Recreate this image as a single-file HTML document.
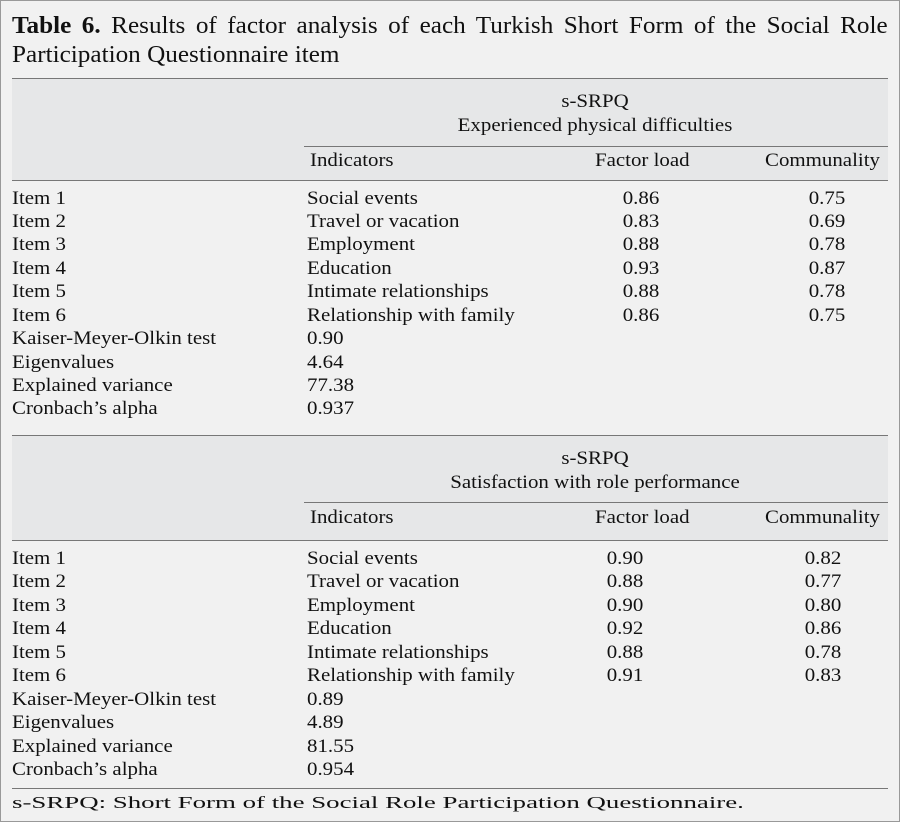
<!DOCTYPE html>
<html><head><meta charset="utf-8"><style>
body{margin:0;width:900px;height:822px;background:#f1f1f1;overflow:hidden;font-family:"Liberation Serif",serif;color:#111;}
.frame{position:absolute;left:0;top:0;width:898px;height:820px;border:1px solid #999;}
.t{position:absolute;font-size:19px;line-height:22px;white-space:nowrap;transform:scaleX(1.1);transform-origin:0 0;}
.c{transform:translateX(-50%) scaleX(1.1);transform-origin:50% 0;}
.band{position:absolute;left:12px;width:876px;background:#e6e7e8;}
.hl{position:absolute;height:1px;background:#777;}
.ti{position:absolute;left:12px;font-size:24px;line-height:28px;white-space:nowrap;transform:scaleX(1.05);transform-origin:0 0;}
</style></head><body>
<div class="frame"></div>
<div class="ti" style="top:12px;width:834px;text-align:justify;text-align-last:justify;"><b>Table 6.</b> Results of factor analysis of each Turkish Short Form of the Social Role</div>
<div class="ti" style="top:41px;">Participation Questionnaire item</div>

<div class="band" style="top:78px;height:102px"></div>
<div class="hl" style="left:12px;width:876px;top:78px"></div>
<div class="hl" style="left:304px;width:584px;top:146px"></div>
<div class="hl" style="left:12px;width:876px;top:180px"></div>
<div class="t c" style="left:595px;top:91px">s-SRPQ</div>
<div class="t c" style="left:595px;top:115px">Experienced physical difficulties</div>
<div class="t" style="left:310px;top:150px">Indicators</div>
<div class="t" style="left:595px;top:150px">Factor load</div>
<div class="t" style="left:765px;top:150px">Communality</div>

<div class="t" style="left:12px;top:188px">Item 1</div><div class="t" style="left:307px;top:188px">Social events</div><div class="t c" style="left:641px;top:188px">0.86</div><div class="t c" style="left:827px;top:188px">0.75</div>
<div class="t" style="left:12px;top:211px">Item 2</div><div class="t" style="left:307px;top:211px">Travel or vacation</div><div class="t c" style="left:641px;top:211px">0.83</div><div class="t c" style="left:827px;top:211px">0.69</div>
<div class="t" style="left:12px;top:234px">Item 3</div><div class="t" style="left:307px;top:234px">Employment</div><div class="t c" style="left:641px;top:234px">0.88</div><div class="t c" style="left:827px;top:234px">0.78</div>
<div class="t" style="left:12px;top:258px">Item 4</div><div class="t" style="left:307px;top:258px">Education</div><div class="t c" style="left:641px;top:258px">0.93</div><div class="t c" style="left:827px;top:258px">0.87</div>
<div class="t" style="left:12px;top:281px">Item 5</div><div class="t" style="left:307px;top:281px">Intimate relationships</div><div class="t c" style="left:641px;top:281px">0.88</div><div class="t c" style="left:827px;top:281px">0.78</div>
<div class="t" style="left:12px;top:305px">Item 6</div><div class="t" style="left:307px;top:305px">Relationship with family</div><div class="t c" style="left:641px;top:305px">0.86</div><div class="t c" style="left:827px;top:305px">0.75</div>
<div class="t" style="left:12px;top:328px">Kaiser-Meyer-Olkin test</div><div class="t" style="left:307px;top:328px">0.90</div>
<div class="t" style="left:12px;top:352px">Eigenvalues</div><div class="t" style="left:307px;top:352px">4.64</div>
<div class="t" style="left:12px;top:375px">Explained variance</div><div class="t" style="left:307px;top:375px">77.38</div>
<div class="t" style="left:12px;top:398px">Cronbach’s alpha</div><div class="t" style="left:307px;top:398px">0.937</div>

<div class="band" style="top:435px;height:105px"></div>
<div class="hl" style="left:12px;width:876px;top:435px"></div>
<div class="hl" style="left:304px;width:584px;top:502px"></div>
<div class="hl" style="left:12px;width:876px;top:540px"></div>
<div class="t c" style="left:595px;top:448px">s-SRPQ</div>
<div class="t c" style="left:595px;top:472px">Satisfaction with role performance</div>
<div class="t" style="left:310px;top:507px">Indicators</div>
<div class="t" style="left:595px;top:507px">Factor load</div>
<div class="t" style="left:765px;top:507px">Communality</div>

<div class="t" style="left:12px;top:548px">Item 1</div><div class="t" style="left:307px;top:548px">Social events</div><div class="t c" style="left:625px;top:548px">0.90</div><div class="t c" style="left:823px;top:548px">0.82</div>
<div class="t" style="left:12px;top:571px">Item 2</div><div class="t" style="left:307px;top:571px">Travel or vacation</div><div class="t c" style="left:625px;top:571px">0.88</div><div class="t c" style="left:823px;top:571px">0.77</div>
<div class="t" style="left:12px;top:595px">Item 3</div><div class="t" style="left:307px;top:595px">Employment</div><div class="t c" style="left:625px;top:595px">0.90</div><div class="t c" style="left:823px;top:595px">0.80</div>
<div class="t" style="left:12px;top:618px">Item 4</div><div class="t" style="left:307px;top:618px">Education</div><div class="t c" style="left:625px;top:618px">0.92</div><div class="t c" style="left:823px;top:618px">0.86</div>
<div class="t" style="left:12px;top:642px">Item 5</div><div class="t" style="left:307px;top:642px">Intimate relationships</div><div class="t c" style="left:625px;top:642px">0.88</div><div class="t c" style="left:823px;top:642px">0.78</div>
<div class="t" style="left:12px;top:665px">Item 6</div><div class="t" style="left:307px;top:665px">Relationship with family</div><div class="t c" style="left:625px;top:665px">0.91</div><div class="t c" style="left:823px;top:665px">0.83</div>
<div class="t" style="left:12px;top:689px">Kaiser-Meyer-Olkin test</div><div class="t" style="left:307px;top:689px">0.89</div>
<div class="t" style="left:12px;top:712px">Eigenvalues</div><div class="t" style="left:307px;top:712px">4.89</div>
<div class="t" style="left:12px;top:736px">Explained variance</div><div class="t" style="left:307px;top:736px">81.55</div>
<div class="t" style="left:12px;top:759px">Cronbach’s alpha</div><div class="t" style="left:307px;top:759px">0.954</div>

<div class="hl" style="left:12px;width:876px;top:788px"></div>
<div class="t" style="left:12px;top:793px;font-size:17px;line-height:20px;transform:scaleX(1.58)">s-SRPQ: Short Form of the Social Role Participation Questionnaire.</div>
</body></html>
